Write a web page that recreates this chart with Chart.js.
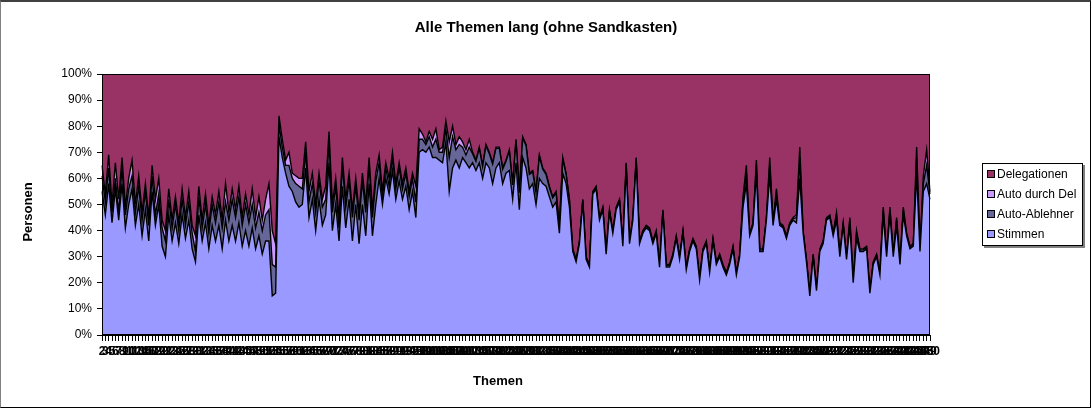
<!DOCTYPE html>
<html><head><meta charset="utf-8">
<script src="https://cdn.jsdelivr.net/npm/chart.js@4"></script>
<style>
html,body{margin:0;padding:0;background:#fff;}
#wrap{position:relative;width:1092px;height:409px;overflow:hidden;background:#fff;}
#c{position:absolute;left:0;top:0;}
#frame{position:absolute;left:0;top:0;width:1091px;height:408px;box-sizing:border-box;border:1px solid #000;border-left-color:#808080;border-top:2px solid #404040;pointer-events:none;}
#legend{position:absolute;left:982px;top:163px;width:101px;height:83px;box-sizing:border-box;border:1px solid #000;box-shadow:2px 2px 0 #808080;background:#fff;font:12px "Liberation Sans",Arial,sans-serif;color:#000;}
.sw{position:absolute;left:4px;width:8px;height:8px;box-sizing:border-box;border:1px solid #000;}
.tx{position:absolute;left:14px;height:14px;line-height:14px;white-space:nowrap;}
</style></head>
<body>
<div id="wrap">
<canvas id="c" width="1092" height="409"></canvas>
<div id="legend"></div>
<div id="frame"></div>
</div>
<script>
// Stacked percentage values per topic
const stimmen = [
55,46,58,43,56,44,58,41,50,56, 42,50,38,48,36,55,42,50,34,30, 46,36,43,35,46,37,44,33,28,46, 36,43,33,42,36,42,33,44,36,42, 36,43,34,40,34,41,33,38,31,36, 36,15,16,76,68,62,57,55,51,49,
50,64,45,52,40,52,42,46,66,40, 50,36,57,41,52,36,50,35,50,38, 58,38,50,60,50,60,54,63,52,59, 52,57,48,55,45,70,71,70,72,68, 68,67,66,74,55,64,67,64,68,66, 64,
66,63,66,60,66,64,58,64,66,58, 62,63,52,66,48,68,64,56,58,50, 60,58,57,53,49,51,39,62,58,49, 32,28,35,51,29,26,54,56,44,48, 31,47,39,48,51,34,64,35,44,66, 35,39,41,40,35,39,26,47,26,26,
30,37,29,39,25,32,36,33,21,32, 35,24,36,27,30,26,23,27,33,23, 30,49,58,38,42,62,32,32,44,61, 42,52,42,41,37,42,44,43,60,39, 28,15,30,17,32,35,44,45,38,44, 30,42,29,42,20,37,32,32,
33,16,27,30,23,46,30,46,30,42, 27,46,38,33,34,62,32,55,58,52];
const autoAblehner = [
6,5,6,4,4,3,6,5,6,5, 5,7,6,7,6,6,4,4,7,6, 6,5,7,5,6,5,7,6,4,7, 5,7,6,8,7,9,8,7,8,10, 9,10,8,10,9,9,8,9,9,10, 12,12,10,5,4,3,8,5,7,8,
6,6,6,6,7,7,7,6,8,7, 7,5,8,8,7,9,7,9,9,9, 7,7,9,6,3,4,3,5,4,5, 4,5,5,5,6,5,4,3,4,4, 7,3,4,5,13,12,4,9,4,3, 8,
3.5,3.5,5.5,4.5,6.5,5.5,7.5,7.5,5.5,5.5, 4.5,7.5,5.5,8.5,6.5,7.5,8.5,5.5,4.5,4.5, 8.5,5.5,4.5,3.5,3.5,3.5,2.5,5.5,3.5,2.5,
0.6,0.6,0.6,0.6,0.6,0.6,0.6,0.6,0.6,0.6, 0.6,0.6,0.6,0.6,0.6,0.6,1.5,0.6,0.6,1.5, 0.6,0.6,0.6,0.6,0.6,0.6,0.6,0.6,0.6,0.6,
0.6,0.6,0.6,0.6,0.6,0.6,0.6,0.6,0.6,0.6, 0.6,0.6,0.6,0.6,0.6,0.6,0.6,0.6,0.6,0.6, 0.6,2,4,0.6,0.6,3,0.6,0.6,0.6,4, 0.6,2,0.6,0.6,0.6,0.6,0.6,2,7,0.6, 0.6,0.6,0.6,0.6,0.6,0.6,0.6,0.6,0.6,2, 0.6,0.6,0.6,2,0.6,2,0.6,0.6,
0.6,0.6,0.6,0.6,0.6,2,0.6,2,0.6,2, 0.6,2,0.6,0.6,0.6,6,0.6,3,7,2];
const autoDurchDel = [
4,3,5,3,6,5,4,3,4,6, 3,4,3,3,3,4,6,6,3,4, 4,3,3,3,4,3,4,3,6,4, 3,4,3,3,3,4,3,7,3,4, 3,4,3,4,3,6,4,6,4,6, 10,13,9,3,3,2,5,2,3,3,
4,4,4,4,3,3,3,5,4,3, 3,4,3,3,3,3,3,3,3,3, 3,3,3,3,2,2,3,2,2,2, 2,2,2,2,6,4,2,1,2,3, 4,1,2,3,6,4,2,3,2,2, 3,
0.5,0.5,0.5,0.5,0.5,0.5,0.5,0.5,0.5,0.5, 0.5,0.5,0.5,0.5,0.5,0.5,0.5,0.5,0.5,0.5, 0.5,0.5,0.5,0.5,0.5,0.5,0.5,0.5,0.5,0.5,
0.4,0.4,0.4,0.4,0.4,0.4,0.4,0.4,0.4,0.4, 0.4,0.4,0.4,0.4,0.4,0.4,0.5,0.4,0.4,0.5, 0.4,0.4,0.4,0.4,0.4,0.4,0.4,0.4,0.4,0.4,
0.4,0.4,0.4,0.4,0.4,0.4,0.4,0.4,0.4,0.4, 0.4,0.4,0.4,0.4,0.4,0.4,0.4,0.4,0.4,0.4, 0.4,2,3,0.4,0.4,2,0.4,0.4,0.4,3, 0.4,2,0.4,0.4,0.4,0.4,0.4,1,5,0.4, 0.4,0.4,0.4,0.4,0.4,0.4,0.4,0.4,0.4,1, 0.4,0.4,0.4,1,0.4,1,0.4,0.4,
0.4,0.4,0.4,0.4,0.4,1,0.4,1,0.4,1, 0.4,1,0.4,0.4,0.4,4,0.4,3,6,1];
const delegationen = [
35,46,31,50,34,48,32,51,40,33, 50,39,53,42,55,35,48,40,56,60, 44,56,47,57,44,55,45,58,62,43, 56,46,58,47,54,45,56,42,53,44, 52,43,55,46,54,44,55,47,56,48, 42,60,65,16,25,33,30,38,39,40,
40,26,45,38,50,38,48,43,22,50, 40,55,32,48,38,52,40,53,38,50, 32,52,38,31,45,34,40,30,42,34, 42,36,45,38,43,21,23,26,22,25, 21,29,28,18,26,20,27,24,26,29, 25,
30,33,28,35,27,30,34,28,28,36, 33,29,42,25,45,24,27,38,37,45, 31,36,38,43,47,45,58,32,38,48, 67,71,64,48,70,73,45,43,55,51, 68,52,60,51,48,65,34,64,55,32, 64,60,58,59,64,60,73,52,73,73,
69,62,70,60,74,67,63,66,78,67, 64,75,63,72,69,73,76,72,66,76, 69,47,35,61,57,33,67,67,55,32, 57,44,57,58,62,57,55,54,28,60, 71,84,69,82,67,64,55,54,61,53, 69,57,70,55,79,60,67,67,
66,83,72,69,76,51,69,51,69,55, 72,51,61,66,65,28,67,39,29,45];
// Category labels: topic numbers
const firstTopic = 2;
const categories = stimmen.map((_, i) => String(firstTopic + i));
const yTickValues = [0,10,20,30,40,50,60,70,80,90,100];

const seriesNames = ['Stimmen','Auto-Ablehner','Auto durch Del','Delegationen'];
const seriesColors = ['#9999FF','#666699','#CC99FF','#993366'];
const seriesData = [stimmen, autoAblehner, autoDurchDel, delegationen];
const chartTitle = 'Alle Themen lang (ohne Sandkasten)';

const FONT = '"Liberation Sans", Arial, sans-serif';
Chart.defaults.font.family = FONT;
Chart.defaults.color = '#000';

// legend (HTML, reverse order like the reference)
const leg = document.getElementById('legend');
const rowTops = [3, 23, 43, 63];
[3,2,1,0].forEach((k, r) => {
  const sw = document.createElement('div');
  sw.className = 'sw'; sw.style.top = (rowTops[r] + 3) + 'px'; sw.style.background = seriesColors[k];
  const tx = document.createElement('div');
  tx.className = 'tx'; tx.style.top = rowTops[r] + 'px'; tx.textContent = seriesNames[k];
  leg.appendChild(sw); leg.appendChild(tx);
});

const extras = {
  id: 'extras',
  afterDraw(c) {
    const {ctx, chartArea: a} = c;
    ctx.save();
    ctx.strokeStyle = '#000'; ctx.lineWidth = 1;
    ctx.strokeRect(Math.round(a.left) + 0.5, Math.round(a.top) + 0.5, Math.round(a.right - a.left) - 1, Math.round(a.bottom - a.top) - 1);
    ctx.fillStyle = '#000';
    ctx.textAlign = 'center'; ctx.textBaseline = 'middle';
    ctx.font = 'bold 15px ' + FONT;
    ctx.fillText(chartTitle, 546, 28);
    ctx.font = 'bold 13px ' + FONT;
    ctx.fillText('Themen', 498, 381);
    ctx.translate(28, 212); ctx.rotate(-Math.PI / 2);
    ctx.fillText('Personen', 0, 0);
    ctx.restore();
  }
};

new Chart(document.getElementById('c'), {
  type: 'line',
  data: {
    labels: categories,
    datasets: seriesData.map((d, k) => ({
      label: seriesNames[k], data: d,
      backgroundColor: seriesColors[k],
      fill: k === 0 ? 'origin' : '-1',
      borderColor: '#000', borderWidth: 1.4, pointRadius: 0, tension: 0
    }))
  },
  options: {
    responsive: false, animation: false, devicePixelRatio: 1,
    layout: {padding: {left: 0, right: 162, top: 74, bottom: 0}},
    plugins: {
      legend: {display: false}, tooltip: {enabled: false}, title: {display: false}
    },
    scales: {
      x: {
        type: 'category', offset: false,
        grid: {display: true, drawOnChartArea: false, drawTicks: true, tickLength: 6, color: '#000'},
        border: {display: true, color: '#000'},
        ticks: {autoSkip: false, maxRotation: 0, minRotation: 0, color: '#000', font: {size: 12, weight: 'bold'}, padding: 3},
        afterFit(s) { s.height = 74; }
      },
      y: {
        stacked: true, min: 0, max: 100,
        afterBuildTicks(s) { s.ticks = yTickValues.map(v => ({value: v})); },
        ticks: {callback: v => v + '%', color: '#000', font: {size: 12}, padding: 5},
        grid: {drawOnChartArea: false, tickLength: 5, color: '#000'},
        border: {display: true, color: '#000'},
        afterFit(s) { s.width = 102; }
      }
    }
  },
  plugins: [extras]
});
</script>
</body></html>
